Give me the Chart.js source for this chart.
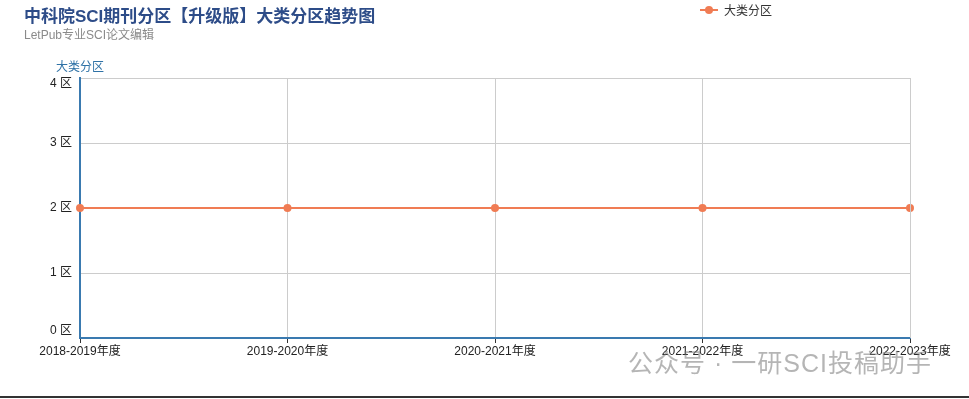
<!DOCTYPE html>
<html><head><meta charset="utf-8">
<script src="https://cdn.jsdelivr.net/npm/chart.js@4.4.0/dist/chart.umd.min.js"></script>
<style>
html,body{margin:0;padding:0;background:#fff;}
#wrap{position:relative;width:969px;height:399px;overflow:hidden;font-family:"Liberation Sans","Noto Sans CJK SC",sans-serif;}
canvas{position:absolute;left:0;top:0;}
#title{position:absolute;left:24px;top:2px;font-size:17px;font-weight:bold;color:#2d4c88;white-space:nowrap;}
#sub{position:absolute;left:24px;top:25px;font-size:12px;color:#8a8a8a;white-space:nowrap;}
#ytitle{position:absolute;left:56px;top:57px;font-size:12px;color:#2f72a6;white-space:nowrap;}
#legend{position:absolute;left:700px;top:1px;font-size:12px;color:#333;white-space:nowrap;display:flex;align-items:center;}
#legend .mk{position:relative;width:18px;height:12px;margin-right:6px;}
#legend .mk .ln{position:absolute;left:0;top:5px;width:18px;height:2px;background:#f07c54;}
#legend .mk .dt{position:absolute;left:5px;top:2px;width:8px;height:8px;border-radius:50%;background:#f07c54;}
#wm{position:absolute;left:628px;top:343px;font-size:25px;color:rgba(120,120,120,0.55);white-space:nowrap;letter-spacing:1px;}
#bline{position:absolute;left:0;top:396px;width:969px;height:2px;background:#333;}
</style></head>
<body><div id="wrap">
<canvas id="c" width="969" height="399"></canvas>
<div id="title">中科院SCI期刊分区【升级版】大类分区趋势图</div>
<div id="sub">LetPub专业SCI论文编辑</div>
<div id="ytitle">大类分区</div>
<div id="legend"><div class="mk"><div class="ln"></div><div class="dt"></div></div>大类分区</div>
<div id="wm">公众号 · 一研SCI投稿助手</div>
<div id="bline"></div>
</div>
<script>
const categories = ["2018-2019年度","2019-2020年度","2020-2021年度","2021-2022年度","2022-2023年度"];
const seriesName = "大类分区";
const seriesValues = [2,2,2,2,2];
const yTicks = [0,1,2,3,4];
const yUnit = " 区";
const FONT = '12px "Liberation Sans","Noto Sans CJK SC"';

new Chart(document.getElementById('c'), {
  type: 'line',
  data: {
    labels: categories,
    datasets: [{
      label: seriesName,
      data: seriesValues,
      borderColor: '#f07c54',
      backgroundColor: '#f07c54',
      borderWidth: 2,
      pointRadius: 3,
      pointHoverRadius: 3,
      tension: 0
    }]
  },
  options: {
    responsive: false,
    animation: false,
    layout: { padding: { top: 78, right: 59, bottom: 0, left: 0 } },
    plugins: { legend: { display: false }, tooltip: { enabled: false } },
    scales: {
      x: {
        offset: false,
        grid: { color: '#cccccc', lineWidth: 1, tickLength: 5, tickColor: '#333' },
        border: { color: '#3a7ab0', width: 2 },
        ticks: { color: '#222', font: { size: 12, family: '"Liberation Sans","Noto Sans CJK SC"' }, maxRotation: 0, autoSkip: false, padding: 1 },
        afterFit: s => { s.height = 61; }
      },
      y: {
        min: 0, max: 4,
        afterBuildTicks: s => { s.ticks = yTicks.map(v => ({ value: v })); },
        grid: { color: '#cccccc', lineWidth: 1, drawTicks: false },
        border: { color: '#3a7ab0', width: 2 },
        ticks: { display: false },
        afterFit: s => { s.width = 80; }
      }
    }
  },
  plugins: [{
    id: 'extras',
    afterDraw(chart) {
      const a = chart.chartArea, ctx = chart.ctx, ys = chart.scales.y;
      ctx.save(); ctx.strokeStyle = '#cccccc'; ctx.lineWidth = 1;
      ctx.beginPath(); ctx.moveTo(Math.round(a.right)+0.5, a.top); ctx.lineTo(Math.round(a.right)+0.5, a.bottom); ctx.stroke();
      ctx.font = FONT; ctx.fillStyle = '#222'; ctx.textAlign = 'right'; ctx.textBaseline = 'middle';
      yTicks.forEach(v => {
        let y = ys.getPixelForValue(v);
        if (v === ys.max) y += 6;
        if (v === ys.min) y -= 7;
        ctx.fillText(v + yUnit, a.left - 8, y);
      });
      ctx.restore();
    }
  }]
});
</script>
</body></html>
